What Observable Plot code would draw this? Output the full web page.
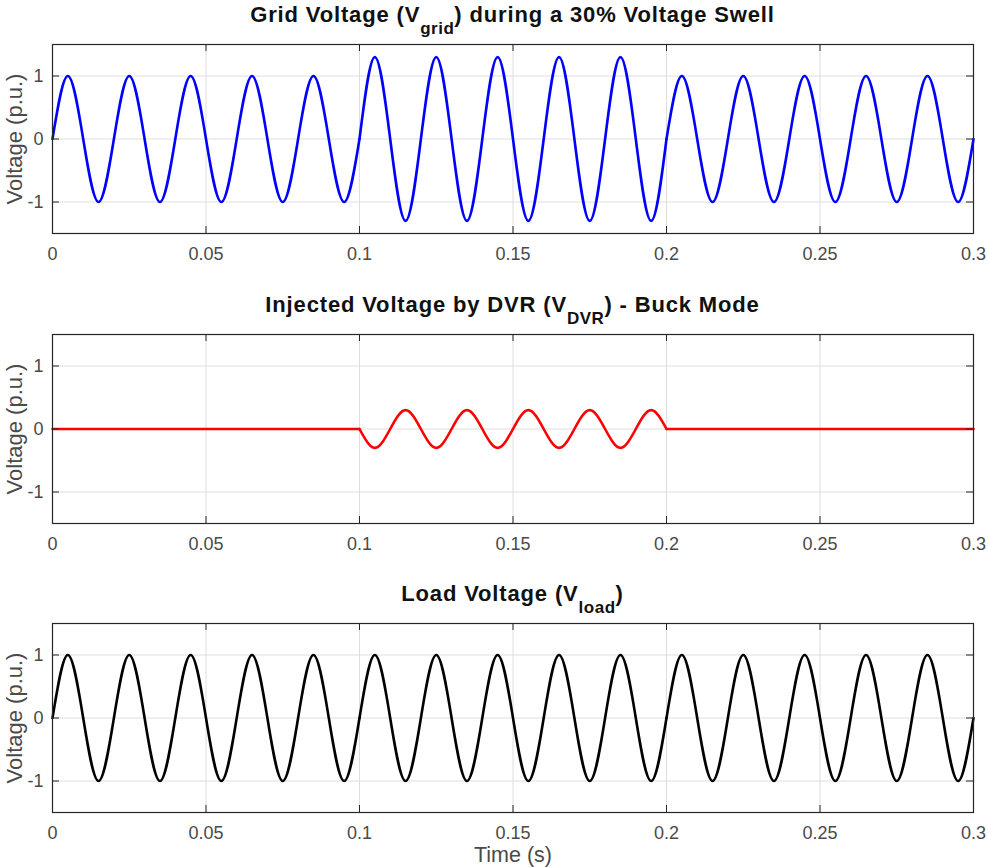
<!DOCTYPE html>
<html><head><meta charset="utf-8">
<script src="https://cdn.jsdelivr.net/npm/d3@7"></script>
<script src="https://cdn.jsdelivr.net/npm/@observablehq/plot@0.6"></script>
<style>
body{margin:0;background:#fff;}
#fig{position:relative;width:988px;height:867px;font-family:"Liberation Sans",Arial,Helvetica,sans-serif;background:#fff;overflow:hidden;}
.title{position:absolute;left:52px;width:921px;text-align:center;font-size:22px;font-weight:bold;line-height:22px;color:#111;letter-spacing:0.85px;white-space:nowrap;}
.title .sub{font-size:17px;position:relative;top:12px;letter-spacing:0.5px;}
.panel{position:absolute;left:0;}
</style></head><body><div id="fig"></div>
<script>
// sampling step: quarter period of the 50 Hz waveform (zero crossings and peaks)
const timeStep = 0.005;
const segmentBounds = [0, 0.1, 0.2, 0.3];

const gridVoltage = [
  0,1,0,-1, 0,1,0,-1, 0,1,0,-1, 0,1,0,-1, 0,1,0,-1,
  0,1.3,0,-1.3, 0,1.3,0,-1.3, 0,1.3,0,-1.3, 0,1.3,0,-1.3, 0,1.3,0,-1.3,
  0,1,0,-1, 0,1,0,-1, 0,1,0,-1, 0,1,0,-1, 0,1,0,-1,
  0
];
const dvrVoltage = [
  0,0,0,0, 0,0,0,0, 0,0,0,0, 0,0,0,0, 0,0,0,0,
  0,-0.3,0,0.3, 0,-0.3,0,0.3, 0,-0.3,0,0.3, 0,-0.3,0,0.3, 0,-0.3,0,0.3,
  0,0,0,0, 0,0,0,0, 0,0,0,0, 0,0,0,0, 0,0,0,0,
  0
];
const loadVoltage = [
  0,1,0,-1, 0,1,0,-1, 0,1,0,-1, 0,1,0,-1, 0,1,0,-1,
  0,1,0,-1, 0,1,0,-1, 0,1,0,-1, 0,1,0,-1, 0,1,0,-1,
  0,1,0,-1, 0,1,0,-1, 0,1,0,-1, 0,1,0,-1, 0,1,0,-1,
  0
];

const xTicks = [0, 0.05, 0.1, 0.15, 0.2, 0.25, 0.3];
const xTickLabels = ["0", "0.05", "0.1", "0.15", "0.2", "0.25", "0.3"];
const yTicks = [-1, 0, 1];
const yTickLabels = ["-1", "0", "1"];

const panelTitles = [
  ["Grid Voltage (V", "grid", ") during a 30% Voltage Swell"],
  ["Injected Voltage by DVR (V", "DVR", ") - Buck Mode"],
  ["Load Voltage (V", "load", ")"]
];
const panelSeries = [gridVoltage, dvrVoltage, loadVoltage];
const panelColors = ["#0000ff", "#ff0000", "#000000"];
const yLabel = "Voltage (p.u.)";
const xLabel = "Time (s)";

const W = 988, ML = 52, MR = 15, frameH = 189, MT = 2;
const frameTops = [44, 334, 623];
const axisColor = "#262626", textColor = "#4a4a4a", gridColor = "#dedede";
const fig = document.getElementById("fig");

function rowsFor(values) {
  const rows = [];
  values.forEach((v, i) => {
    const t = +(i * timeStep).toFixed(4);
    for (let s = 0; s < segmentBounds.length - 1; s++) {
      if (t >= segmentBounds[s] - 1e-9 && t <= segmentBounds[s + 1] + 1e-9) rows.push({t, v, seg: s});
    }
  });
  return rows;
}

panelSeries.forEach((values, p) => {
  const last = p === panelSeries.length - 1;
  const MB = last ? 54 : 40;
  const H = MT + frameH + MB;
  const marks = [
    Plot.gridX(xTicks, {stroke: gridColor, strokeOpacity: 1}),
    Plot.gridY(yTicks, {stroke: gridColor, strokeOpacity: 1}),
    Plot.line(rowsFor(values), {x: "t", y: "v", z: "seg", curve: "natural", stroke: panelColors[p], strokeWidth: 2.6}),
    Plot.ruleX(xTicks, {stroke: axisColor, insetTop: frameH - 7}),
    Plot.ruleX(xTicks, {stroke: axisColor, insetBottom: frameH - 7}),
    Plot.ruleY(yTicks, {stroke: axisColor, insetRight: (W - ML - MR) - 7}),
    Plot.ruleY(yTicks, {stroke: axisColor, insetLeft: (W - ML - MR) - 7}),
    Plot.frame({stroke: axisColor, strokeWidth: 1.2}),
    Plot.axisX(xTicks, {tickSize: 0, tickPadding: 13.5, tickFormat: d => xTickLabels[xTicks.indexOf(d)], fontSize: 18, fill: textColor, label: null}),
    Plot.axisY(yTicks, {tickSize: 0, tickPadding: 9, tickFormat: d => yTickLabels[yTicks.indexOf(d)], fontSize: 18, fill: textColor, label: null}),
    Plot.text([yLabel], {text: d => d, frameAnchor: "left", dx: -38, rotate: -90, fontSize: 22, fill: textColor, textAnchor: "middle", lineAnchor: "middle"})
  ];
  if (last) marks.push(Plot.text([xLabel], {text: d => d, frameAnchor: "bottom", dy: 43, fontSize: 21.5, fill: textColor, lineAnchor: "middle"}));
  const chart = Plot.plot({
    width: W, height: H,
    marginLeft: ML, marginRight: MR, marginTop: MT, marginBottom: MB,
    x: {domain: [0, 0.3]},
    y: {domain: [-1.5, 1.5]},
    style: {fontFamily: '"Liberation Sans", Arial, Helvetica, sans-serif', overflow: "visible", background: "transparent"},
    marks
  });
  chart.classList.add("panel");
  chart.style.top = (frameTops[p] - MT) + "px";
  fig.appendChild(chart);

  const t = document.createElement("div");
  t.className = "title";
  t.style.top = (frameTops[p] - 40.5) + "px";
  const [a, sub, b] = panelTitles[p];
  t.append(document.createTextNode(a));
  const s = document.createElement("span");
  s.className = "sub";
  s.textContent = sub;
  t.append(s);
  t.append(document.createTextNode(b));
  fig.appendChild(t);
});
</script></body></html>
